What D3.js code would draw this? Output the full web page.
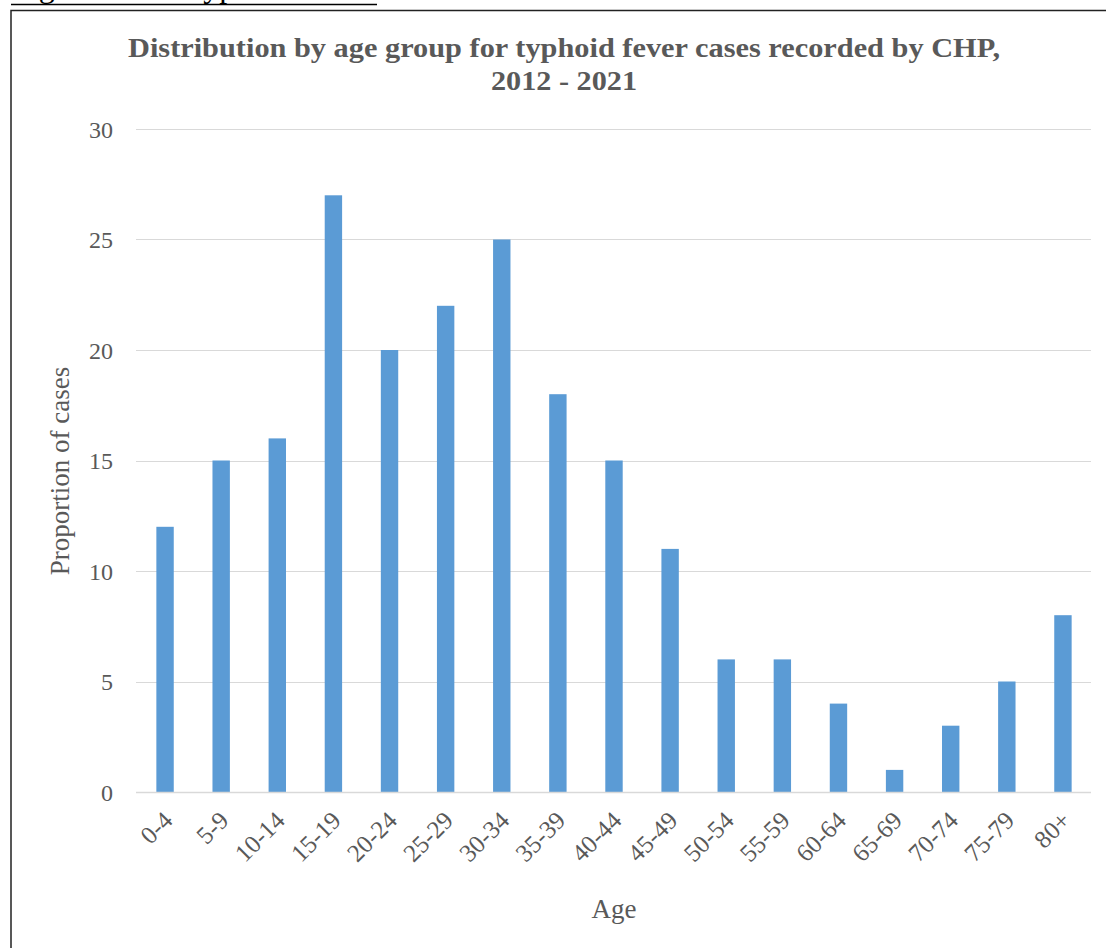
<!DOCTYPE html>
<html>
<head>
<meta charset="utf-8">
<script src="https://cdn.jsdelivr.net/npm/d3@7"></script>
<style>
  html, body { margin: 0; padding: 0; background: #fff; }
  svg { display: block; }
  text { font-family: "Liberation Serif", "Times New Roman", serif; }
</style>
</head>
<body>
<svg id="chart" width="1106" height="948"></svg>
<script>
// Age groups and the share of typhoid fever cases in each
const ageGroups = ["0-4","5-9","10-14","15-19","20-24","25-29","30-34","35-39","40-44",
                   "45-49","50-54","55-59","60-64","65-69","70-74","75-79","80+"];
const proportions = [12, 15, 16, 27, 20, 22, 25, 18, 15, 11, 6, 6, 4, 1, 3, 5, 8];
const yTicks = [0, 5, 10, 15, 20, 25, 30];
const titleLines = ["Distribution by age group for typhoid fever cases recorded by CHP,", "2012 - 2021"];

const svg = d3.select("#chart");
const textColor = "#595959";

// caption strip above the framed figure (runs off the top edge)
svg.append("text").attr("x", 12).attr("y", -3)
  .attr("font-size", 32).attr("fill", "#000").text("Figure 9");
svg.append("text").attr("x", 186).attr("y", -3)
  .attr("font-size", 32).attr("fill", "#000").text("Typhoid fever");
svg.append("line").attr("x1", 11).attr("x2", 377).attr("y1", 4.5).attr("y2", 4.5)
  .attr("stroke", "#000").attr("stroke-width", 1.5);

// frame around the chart
svg.append("path")
  .attr("d", "M11,948 L11,10.5 L1106,10.5")
  .attr("fill", "none").attr("stroke", "#222").attr("stroke-width", 1.5);

const plot = { left: 137, right: 1091, top: 129, bottom: 792 };

const x = d3.scaleBand().domain(ageGroups)
  .range([plot.left, plot.right]).paddingInner(0.69).paddingOuter(0.345);
const y = d3.scaleLinear().domain([0, 30]).range([plot.bottom, plot.top]);

// horizontal gridlines
svg.append("g").selectAll("line").data(yTicks).join("line")
  .attr("x1", plot.left - 1).attr("x2", plot.right)
  .attr("y1", d => Math.round(y(d)) + 0.5).attr("y2", d => Math.round(y(d)) + 0.5)
  .attr("stroke", "#d9d9d9").attr("stroke-width", 1.2);

// y axis labels
const yAxis = d3.axisLeft(y).tickValues(yTicks).tickSize(0).tickPadding(0);
const gy = svg.append("g").attr("transform", `translate(${plot.left - 24},0)`).call(yAxis);
gy.select(".domain").remove();
gy.selectAll("text")
  .attr("font-size", 24).attr("fill", textColor).attr("dy", "0.35em");

// bars
svg.append("g").selectAll("rect").data(proportions).join("rect")
  .attr("x", (d, i) => x(ageGroups[i]))
  .attr("width", x.bandwidth())
  .attr("y", d => y(d))
  .attr("height", d => y(0) - y(d))
  .attr("fill", "#5b9bd5");

// x axis line
svg.append("line").attr("x1", plot.left - 1).attr("x2", plot.right)
  .attr("y1", plot.bottom + 0.5).attr("y2", plot.bottom + 0.5)
  .attr("stroke", "#d9d9d9").attr("stroke-width", 1.5);

// rotated x tick labels
const xAxis = d3.axisBottom(x).tickSize(0).tickPadding(0);
const gx = svg.append("g").attr("transform", `translate(0,${plot.bottom})`).call(xAxis);
gx.select(".domain").remove();
gx.selectAll("text")
  .attr("font-size", 25).attr("fill", textColor)
  .attr("text-anchor", "end").attr("dy", null).attr("y", null)
  .attr("transform", "translate(9,30) rotate(-45)");

// axis titles
svg.append("text").attr("x", 614).attr("y", 918)
  .attr("text-anchor", "middle").attr("font-size", 27).attr("fill", textColor)
  .text("Age");
svg.append("text")
  .attr("transform", "translate(69,471) rotate(-90)")
  .attr("text-anchor", "middle").attr("font-size", 27).attr("fill", textColor)
  .text("Proportion of cases");

// chart title
svg.append("g").selectAll("text").data(titleLines).join("text")
  .attr("x", 564).attr("y", (d, i) => 57 + i * 33)
  .attr("text-anchor", "middle").attr("font-size", 28).attr("font-weight", "bold")
  .attr("fill", textColor)
  .attr("textLength", (d, i) => i === 0 ? 872 : 146)
  .attr("lengthAdjust", "spacingAndGlyphs")
  .text(d => d);
</script>
</body>
</html>
